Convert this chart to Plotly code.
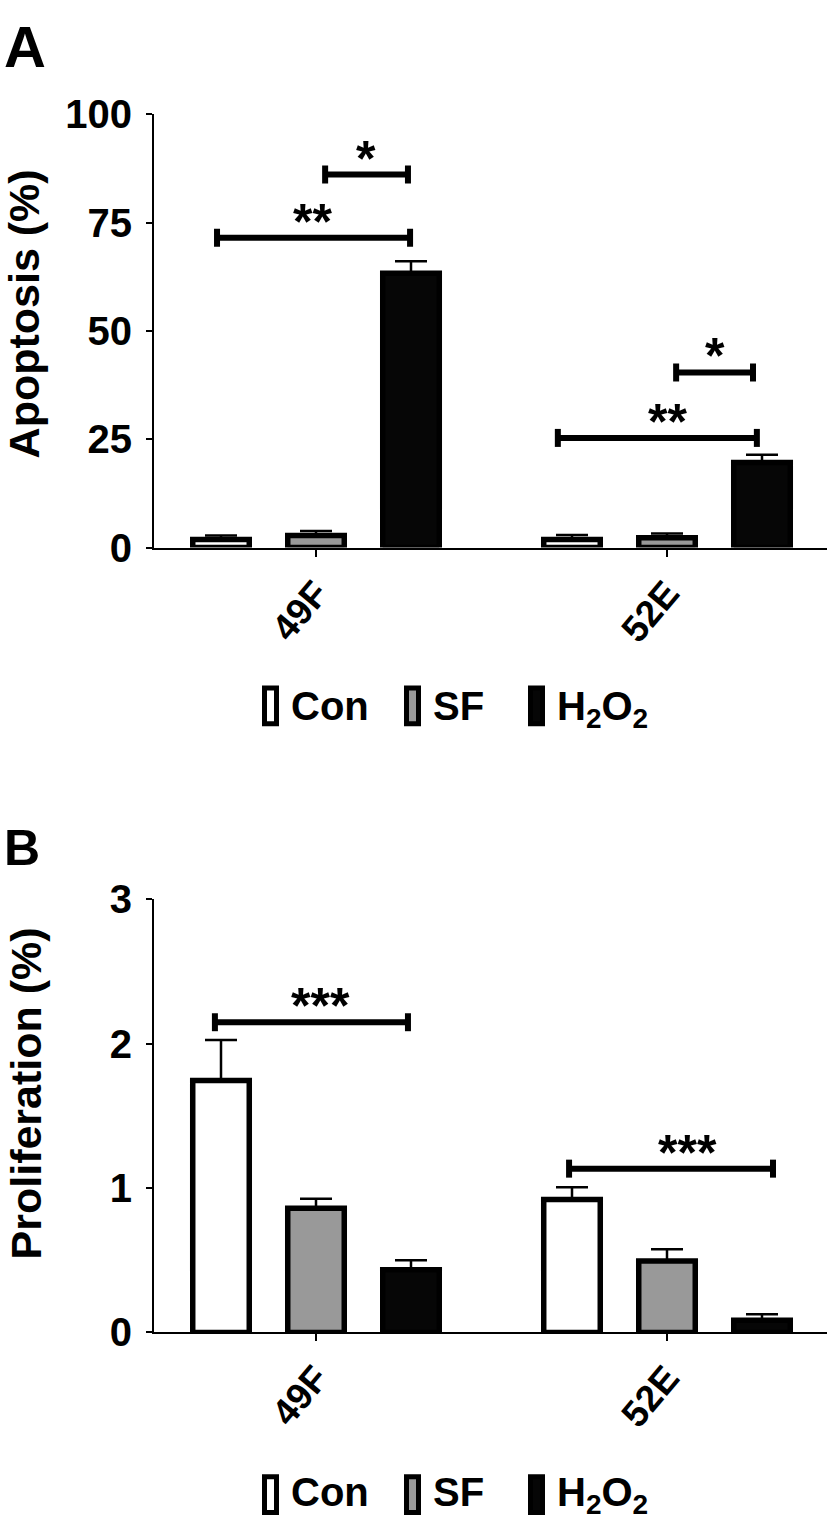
import plotly.graph_objects as go

W, H = 828, 1538

# ---------------- data ----------------
groups = ["49F", "52E"]

apop_con = [1.85, 1.85]
apop_con_err = [0.95, 1.05]
apop_sf = [2.75, 2.25]
apop_sf_err = [1.05, 1.0]
apop_h2o2 = [63.3, 19.6]
apop_h2o2_err = [2.8, 1.8]

prol_con = [1.745, 0.92]
prol_con_err = [0.28, 0.085]
prol_sf = [0.86, 0.495]
prol_sf_err = [0.065, 0.08]
prol_h2o2 = [0.434, 0.085]
prol_h2o2_err = [0.065, 0.04]

# significance brackets (category-index units on x, data units on y)
apop_sig_x0 = [-0.282, 0.026, 0.689, 1.026]
apop_sig_x1 = [0.268, 0.262, 1.256, 1.245]
apop_sig_y = [71.5, 86.1, 25.3, 40.4]
apop_sig_label = ["**", "*", "**", "*"]
apop_sig_label_x = [-0.011, 0.142, 1.0, 1.137]

prol_sig_x0 = [-0.288, 0.721]
prol_sig_x1 = [0.262, 1.302]
prol_sig_y = [2.148, 1.134]
prol_sig_label = ["***", "***"]
prol_sig_label_x = [0.014, 1.057]

apop_ticks = [0, 25, 50, 75, 100]
prol_ticks = [0, 1, 2, 3]

cond_names = ["Con", "SF", "H<sub>2</sub>O<sub>2</sub>"]
cond_colors = ["#ffffff", "#999999", "#060606"]

# ---------------- helpers ----------------
def px(x):
    return x / W

def py(y):
    return 1 - y / H

FONT = "Liberation Sans"
BLACK = "#000000"

fig = go.Figure()

def add_bars(vals_list, errs_list, xa, ya):
    for vals, errs, color, name in zip(vals_list, errs_list, cond_colors, cond_names):
        fig.add_trace(go.Bar(
            x=groups, y=vals, name=name, xaxis=xa, yaxis=ya,
            marker=dict(color=color, line=dict(color=BLACK, width=5.5)),
            error_y=dict(type="data", array=errs, arrayminus=[0] * len(errs),
                         symmetric=False, color=BLACK, thickness=2.5, width=16),
            showlegend=False, hoverinfo="skip",
        ))

add_bars([apop_con, apop_sf, apop_h2o2], [apop_con_err, apop_sf_err, apop_h2o2_err], "x", "y")
add_bars([prol_con, prol_sf, prol_h2o2], [prol_con_err, prol_sf_err, prol_h2o2_err], "x2", "y2")

# ---------------- brackets ----------------
shapes = []
annotations = []

def add_brackets(x0s, x1s, ys, labels, label_xs, xr, yr):
    for x0, x1, yv, lab, lx in zip(x0s, x1s, ys, labels, label_xs):
        shapes.append(dict(type="line", xref=xr, yref=yr, x0=x0, x1=x1, y0=yv, y1=yv,
                           line=dict(color=BLACK, width=6)))
        for xe in (x0, x1):
            shapes.append(dict(type="line", xref=xr, yref=yr, x0=xe, x1=xe,
                               ysizemode="pixel", yanchor=yv, y0=-9, y1=9,
                               line=dict(color=BLACK, width=6)))
        annotations.append(dict(x=lx, y=yv, xref=xr, yref=yr, text=lab, showarrow=False,
                                xanchor="center", yanchor="bottom", yshift=-14,
                                font=dict(family=FONT, size=50, color=BLACK, weight="bold")))

add_brackets(apop_sig_x0, apop_sig_x1, apop_sig_y, apop_sig_label, apop_sig_label_x, "x", "y")
add_brackets(prol_sig_x0, prol_sig_x1, prol_sig_y, prol_sig_label, prol_sig_label_x, "x2", "y2")

# ---------------- manual legends ----------------
legend_icon_x = [262, 404, 528]
legend_text_x = [290, 432, 556]

def add_legend(icon_top, icon_bot, text_top):
    for ix, tx, color, name in zip(legend_icon_x, legend_text_x, cond_colors, cond_names):
        shapes.append(dict(type="rect", xref="paper", yref="paper",
                           x0=px(ix + 2.5), x1=px(ix + 14.5),
                           y0=py(icon_bot - 2.5), y1=py(icon_top + 2.5),
                           fillcolor=color, line=dict(color=BLACK, width=5)))
        annotations.append(dict(x=px(tx), y=py(text_top), xref="paper", yref="paper",
                                text=name, showarrow=False, xanchor="left", yanchor="top",
                                borderpad=0,
                                font=dict(family=FONT, size=40, color=BLACK, weight="bold")))

add_legend(683, 725, 680)
add_legend(1495, 1537, 1490)

# ---------------- panel letters & axis titles ----------------
annotations.append(dict(x=px(3), y=py(-9), xref="paper", yref="paper", text="A",
                        showarrow=False, xanchor="left", yanchor="top", borderpad=0,
                        font=dict(family=FONT, size=58, color=BLACK, weight="bold")))
annotations.append(dict(x=px(3), y=py(820), xref="paper", yref="paper", text="B",
                        showarrow=False, xanchor="left", yanchor="top", borderpad=0,
                        font=dict(family=FONT, size=50, color=BLACK, weight="bold")))
annotations.append(dict(x=px(24), y=py(301), xref="paper", yref="paper", text="Apoptosis (%)",
                        showarrow=False, textangle=-90, xanchor="center", yanchor="middle",
                        borderpad=0,
                        font=dict(family=FONT, size=43, color=BLACK, weight="bold")))
annotations.append(dict(x=px(26), y=py(1103), xref="paper", yref="paper", text="Proliferation (%)",
                        showarrow=False, textangle=-90, xanchor="center", yanchor="middle",
                        borderpad=0,
                        font=dict(family=FONT, size=43, color=BLACK, weight="bold")))

# ---------------- axes ----------------
x_left, x_right = 154, 827
grp0, grp_step = 316, 351
xrange = [(x_left - grp0) / grp_step, (x_right - grp0) / grp_step]
xdomain = [px(x_left), px(x_right)]

xaxis_common = dict(
    type="category", range=xrange, domain=xdomain,
    showline=True, linecolor=BLACK, linewidth=2,
    ticks="outside", ticklen=7, tickwidth=2, tickcolor=BLACK,
    tickangle=-50, showgrid=False, zeroline=False,
    tickfont=dict(family=FONT, size=37, color=BLACK, weight="bold"),
)
yaxis_common = dict(
    showline=True, linecolor=BLACK, linewidth=2,
    ticks="outside", ticklen=6, tickwidth=2, tickcolor=BLACK,
    showgrid=False, zeroline=False, ticklabelstandoff=6,
    tickfont=dict(family=FONT, size=40, color=BLACK, weight="bold"),
)

fig.update_layout(
    width=W, height=H,
    margin=dict(l=0, r=0, t=0, b=0, pad=0),
    paper_bgcolor="white", plot_bgcolor="white",
    barmode="group", bargap=0.188, bargroupgap=0.405,
    showlegend=False,
    xaxis=dict(**xaxis_common, anchor="y"),
    yaxis=dict(**yaxis_common, anchor="x", range=[0, 100], tickvals=apop_ticks,
               domain=[py(541), py(95)]),
    xaxis2=dict(**xaxis_common, anchor="y2"),
    yaxis2=dict(**yaxis_common, anchor="x2", range=[0, 3], tickvals=prol_ticks,
                domain=[py(1349), py(903)]),
    shapes=shapes,
    annotations=annotations,
)

fig.write_html(
    "out.html",
    config={"displayModeBar": False},
    post_script="document.body.style.margin='0';document.documentElement.style.overflow='hidden';",
)
